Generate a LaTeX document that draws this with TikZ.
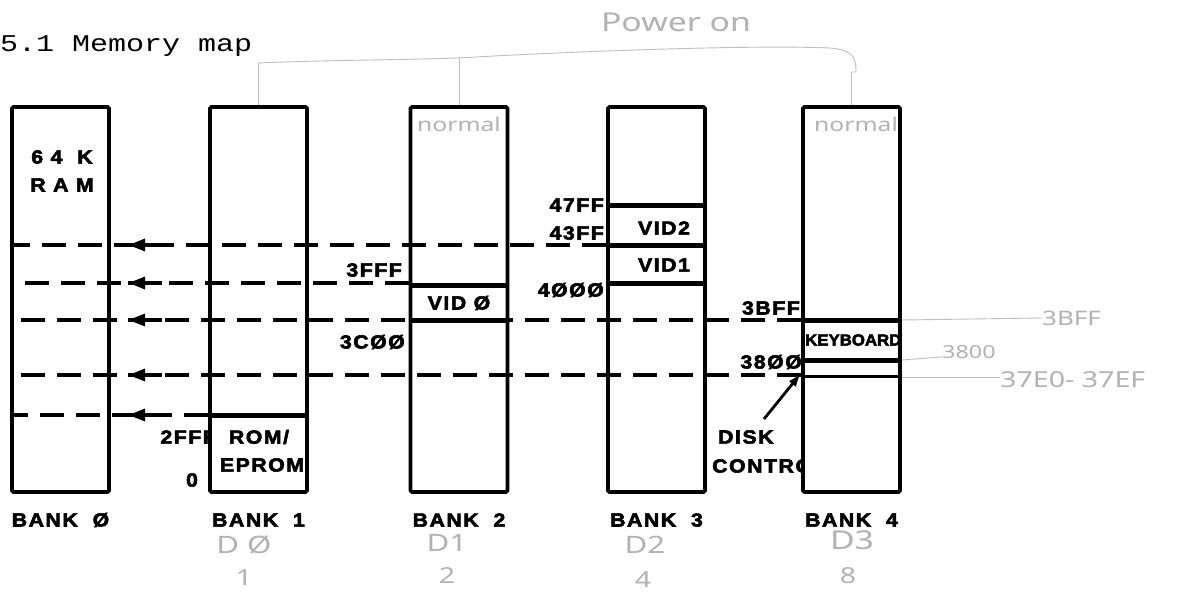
\documentclass[tikz,border=0pt]{standalone}
\usepackage{fontspec}
\setmainfont{Liberation Sans}
\newfontfamily\pf[FakeStretch=1.12,LetterSpace=8,FakeBold=3]{Liberation Sans}
\newfontfamily\kf[FakeStretch=1.05,FakeBold=3]{Liberation Sans}
\newfontfamily\tf[FakeStretch=1.25]{Liberation Mono}
\newfontfamily\hf[FakeStretch=1.3]{Noto Sans}
\usetikzlibrary{arrows.meta,decorations.markings}
\begin{document}
\begin{tikzpicture}[x=1pt,y=-1pt,
  bank/.style={draw,line width=3.6pt,fill=white,minimum width=97pt,minimum height=385pt,inner sep=0pt,rounded corners=1.5pt},
  sepline/.style={line width=5pt},
  thinsep/.style={line width=3pt},
  dline/.style={line width=3.5pt,dash pattern=on 24pt off 12pt,
    decoration={markings,mark=at position -118pt with {\draw[solid,line width=3.5pt] (0pt,0pt)--(-34pt,0pt); \arrow{Triangle[length=17pt,width=12pt]}}},
    postaction={decorate}},
  lab/.style={font=\pf\bfseries\fontsize{19}{21}\selectfont,inner sep=0pt},
  klab/.style={font=\kf\bfseries\fontsize{16}{18}\selectfont,inner sep=0pt},
  hand/.style={font=\hf\fontsize{20}{22}\selectfont,text=gray!60,inner sep=0pt},
  handline/.style={draw=gray!50,line width=0.9pt},
  diskarrow/.style={line width=2.8pt,-{Latex[length=14pt,width=9pt]}}
]
\useasboundingbox (0,0) rectangle (1177,604);
\fill[white] (0,0) rectangle (1177,604);

% title
\node[anchor=west,font=\tf\fontsize{24}{26}\selectfont,inner sep=0pt] (title) at (0,46) {5.1 Memory map};

% labels partly hidden by boxes
\node[lab,anchor=east] (l2fff) at (216,437) {2FFF};
\node[lab,anchor=west] (ctrl) at (712,466) {CONTROL};

% banks
\node[bank] (b0) at (60.5,299.5) {};
\node[bank] (b1) at (258.5,299.5) {};
\node[bank] (b2) at (459,299.5) {};
\node[bank] (b3) at (656.5,299.5) {};
\node[bank] (b4) at (851.5,299.5) {};

% dashed lines with arrows
\draw[dline] (b3.west |- 0,245) -- (b0.west |- 0,245);
\draw[dline] (b2.west |- 0,283) -- (b0.west |- 0,283);
\draw[dline] (b4.west |- 0,320) -- (b0.west |- 0,320);
\draw[dline] (b4.west |- 0,375) -- (b0.west |- 0,375);
\draw[dline] (b1.west |- 0,415) -- (b0.west |- 0,415);

% separators
\draw[sepline] (b1.west |- 0,415) -- (b1.east |- 0,415);
\draw[sepline] (b2.west |- 0,285) -- (b2.east |- 0,285);
\draw[sepline] (b2.west |- 0,320) -- (b2.east |- 0,320);
\draw[sepline] (b3.west |- 0,205) -- (b3.east |- 0,205);
\draw[sepline] (b3.west |- 0,245) -- (b3.east |- 0,245);
\draw[sepline] (b3.west |- 0,283) -- (b3.east |- 0,283);
\draw[sepline] (b4.west |- 0,320) -- (b4.east |- 0,320);
\draw[sepline] (b4.west |- 0,360) -- (b4.east |- 0,360);
\draw[thinsep] (b4.west |- 0,376) -- (b4.east |- 0,376);

% inside texts
\node[lab] (ram1) at (62,157) {6 4\ \ K};
\node[lab] (ram2) at (62,185) {R A M};
\node[lab] (rom1) at (259,437) {ROM/};
\node[lab] (rom2) at (262,465) {EPROM};
\node[lab] (vid0) at (459,303) {VID\ Ø};
\node[lab] (vid2) at (664,228) {VID2};
\node[lab] (vid1) at (664,265) {VID1};
\node[klab,anchor=west] (kbd) at (805,340) {KEYBOARD};

% address labels
\node[lab,anchor=east] (l47) at (604,205) {47FF};
\node[lab,anchor=east] (l43) at (604,233) {43FF};
\node[lab,anchor=east] (l40) at (604,290) {4ØØØ};
\node[lab,anchor=east] (l3fff) at (402,270) {3FFF};
\node[lab,anchor=east] (l3c) at (405,342) {3CØØ};
\node[lab,anchor=east] (l3bff) at (800,308) {3BFF};
\node[lab,anchor=east] (l38) at (802,362) {38ØØ};
\node[lab] (l0) at (192,480) {0};
\node[lab,anchor=west] (disk) at (718,437) {DISK};
\coordinate (dk) at (764,419);
\draw[diskarrow] (dk) -- (b4.west |- 0,373);

% bank names
\node[lab] (n0) at (60.5,520) {BANK\ \ Ø};
\node[lab] (n1) at (258.5,520) {BANK\ \ 1};
\node[lab] (n2) at (459,520) {BANK\ \ 2};
\node[lab] (n3) at (656.5,520) {BANK\ \ 3};
\node[lab] (n4) at (851.5,520) {BANK\ \ 4};

% handwritten annotations
\node[hand,font=\hf\fontsize{26}{28}\selectfont] (pwr) at (676,22) {Power on};
\draw[handline] (b1.north) -- (b1.north |- 0,63) .. controls (330,60) and (400,60) .. (457,58)
  .. controls (600,50) and (760,45) .. (830,48) .. controls (852,50) and (856,56) .. (856,72) -- (b4.north |- 0,72) -- (b4.north);
\draw[handline] (b2.north |- 0,58) -- (b2.north);
\node[hand,font=\hf\fontsize{19}{21}\selectfont] (nrm2) at (459,124) {normal};
\node[hand,font=\hf\fontsize{19}{21}\selectfont] (nrm4) at (856,124) {normal};

\node[hand,anchor=west] (h3bff) at (1042,318) {3BFF};
\node[hand,anchor=west,font=\hf\fontsize{18}{20}\selectfont] (h3800) at (942,352) {3800};
\node[hand,anchor=west,font=\hf\fontsize{22}{24}\selectfont] (h37e) at (1000,380) {37E0- 37EF};
\draw[handline] (b4.east |- 0,320) -- (h3bff.west);
\draw[handline] (b4.east |- 0,360) -- (h3800.west |- 0,357);
\draw[handline] (b4.east |- 0,377) -- (h37e.west |- 0,377);

\node[hand,font=\hf\fontsize{24}{26}\selectfont] (d0) at (244,545) {D Ø};
\node[hand,font=\hf\fontsize{22}{24}\selectfont] (d0n) at (244,578) {1};
\node[hand,font=\hf\fontsize{24}{26}\selectfont] (d1) at (447,543) {D1};
\node[hand,font=\hf\fontsize{22}{24}\selectfont] (d1n) at (447,576) {2};
\node[hand,font=\hf\fontsize{24}{26}\selectfont] (d2) at (645,545) {D2};
\node[hand,font=\hf\fontsize{22}{24}\selectfont] (d2n) at (643,580) {4};
\node[hand,font=\hf\fontsize{26}{28}\selectfont] (d3) at (852,540) {D3};
\node[hand,font=\hf\fontsize{22}{24}\selectfont] (d3n) at (848,576) {8};
\end{tikzpicture}
\end{document}
